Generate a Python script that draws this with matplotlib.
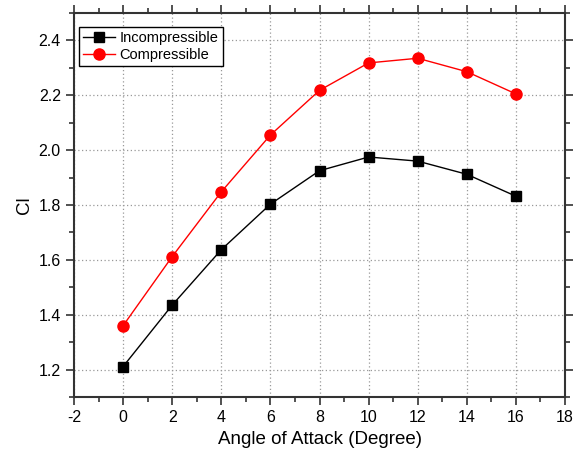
import numpy as np
import matplotlib.pyplot as plt
from matplotlib.ticker import MultipleLocator

plt.rcParams['font.family'] = ['Liberation Sans', 'DejaVu Sans']
plt.rcParams['axes.unicode_minus'] = False

# angle of attack (deg)
aoa = [0, 2, 4, 6, 8, 10, 12, 14, 16]
cl_incomp = [1.211, 1.435, 1.637, 1.803, 1.925, 1.975, 1.960, 1.912, 1.832]
cl_comp = [1.360, 1.612, 1.848, 2.055, 2.218, 2.318, 2.335, 2.286, 2.205]

fig = plt.figure(figsize=(5.75, 4.62), dpi=100)
ax = fig.add_axes([74/575, 1-397/462, 491/575, 384/462])

ax.plot(aoa, cl_incomp, color='black', lw=1, marker='s', ms=7, label='Incompressible')
ax.plot(aoa, cl_comp, color='red', lw=1, marker='o', ms=8, label='Compressible')

ax.set_xlim(-2, 18)
ax.set_ylim(1.1, 2.5)
ax.xaxis.set_major_locator(MultipleLocator(2))
ax.xaxis.set_minor_locator(MultipleLocator(1))
ax.yaxis.set_minor_locator(MultipleLocator(0.1))
ax.set_yticks(np.arange(1.2, 2.41, 0.2))
ax.tick_params(which='both', direction='out', top=True, right=True, labeltop=False, labelright=False,
               width=1.2, color='#333333', labelsize=11.5)
ax.tick_params(which='major', length=6)
ax.tick_params(which='minor', length=3.5)
for s in ax.spines.values():
    s.set_linewidth(1.5)
    s.set_color('#333333')

ax.grid(True, which='major', ls=(0, (1, 2)), color='#999999', lw=0.9)
ax.set_xlabel('Angle of Attack (Degree)', fontsize=13.5)
ax.set_ylabel('Cl', fontsize=13.5)

leg = ax.legend(loc='upper left', fontsize=10.5, fancybox=False, framealpha=1, edgecolor='black',
                borderpad=0.3, handlelength=2.2, handletextpad=0.3, labelspacing=0.2,
                bbox_to_anchor=(0.01, 0.964), borderaxespad=0)
leg.get_frame().set_linewidth(1.0)

fig.savefig('out.png', dpi=100)
